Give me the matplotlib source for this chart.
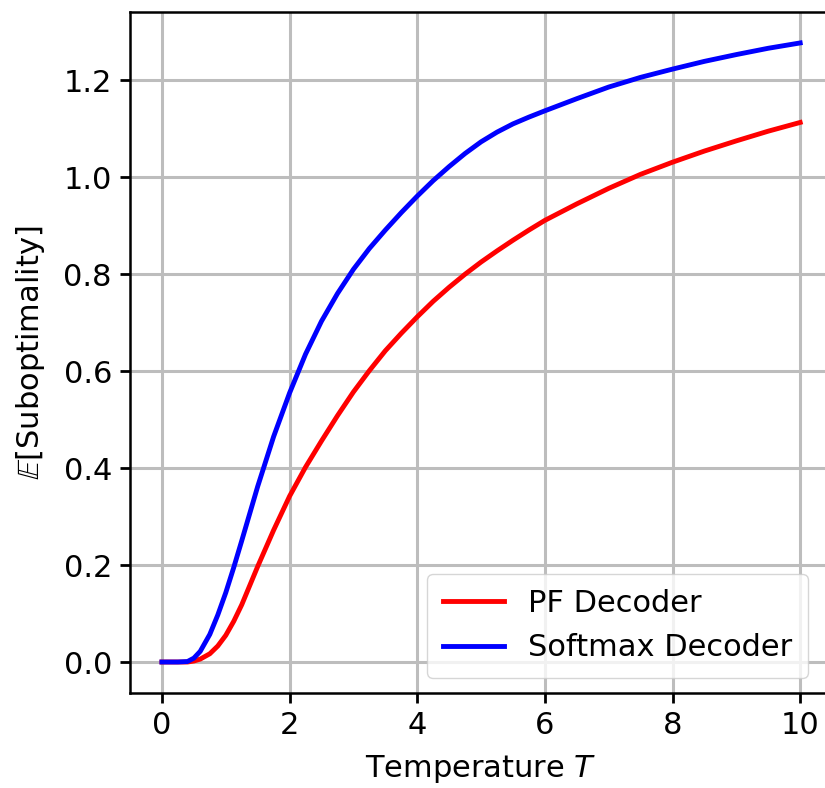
import matplotlib
matplotlib.use("Agg")
import matplotlib.pyplot as plt

temps = [0, 0.25, 0.4, 0.5, 0.6, 0.75, 0.875, 1.0, 1.125, 1.25, 1.5, 1.75,
         2.0, 2.25, 2.5, 2.75, 3.0, 3.25, 3.5, 3.75, 4.0, 4.25, 4.5, 4.75,
         5.0, 5.25, 5.5, 5.75, 6.0, 6.5, 7.0, 7.5, 8.0, 8.5, 9.0, 9.5, 10.0]

# expected suboptimality, PF decoder
pf_vals = [0, 0, 0, 0.002, 0.006, 0.017, 0.033, 0.055, 0.084, 0.118, 0.197,
           0.272, 0.342, 0.402, 0.456, 0.508, 0.557, 0.601, 0.642, 0.678,
           0.712, 0.744, 0.773, 0.8, 0.825, 0.848, 0.87, 0.891, 0.911, 0.945,
           0.977, 1.006, 1.031, 1.054, 1.075, 1.095, 1.113]

# expected suboptimality, softmax decoder
softmax_vals = [0, 0, 0.001, 0.008, 0.022, 0.057, 0.097, 0.143, 0.195, 0.25,
                0.362, 0.465, 0.555, 0.635, 0.703, 0.76, 0.81, 0.853, 0.891,
                0.927, 0.961, 0.993, 1.022, 1.049, 1.073, 1.093, 1.11, 1.124,
                1.137, 1.162, 1.186, 1.206, 1.223, 1.239, 1.253, 1.266, 1.277]

legend_labels = ["PF Decoder", "Softmax Decoder"]

fig = plt.figure(figsize=(8.25, 7.88), dpi=100)
ax = fig.add_axes([0.1576, 0.1206, 0.851, 0.8642])

ax.plot(temps, pf_vals, color="red", lw=3.5, label=legend_labels[0])
ax.plot(temps, softmax_vals, color="blue", lw=3.5, label=legend_labels[1])

ax.set_xticks([0, 2, 4, 6, 8, 10])
ax.set_yticks([0.0, 0.2, 0.4, 0.6, 0.8, 1.0, 1.2])
ax.grid(True, color="#bdbdbd", lw=2.2)
ax.set_axisbelow(True)

ax.tick_params(labelsize=22, width=2, length=7, pad=6)
for s in ax.spines.values():
    s.set_linewidth(1.8)
ax.spines["right"].set_visible(False)

ax.set_xlabel("Temperature $T$", fontsize=22, labelpad=9)
ax.set_ylabel(r"$\mathbb{E}$[Suboptimality]", fontsize=22, labelpad=12)

ax.legend(loc="lower right", fontsize=22, handlelength=2.0, borderpad=0.5,
          bbox_to_anchor=(0.987, 0.0))

fig.savefig("out.png", dpi=100)
